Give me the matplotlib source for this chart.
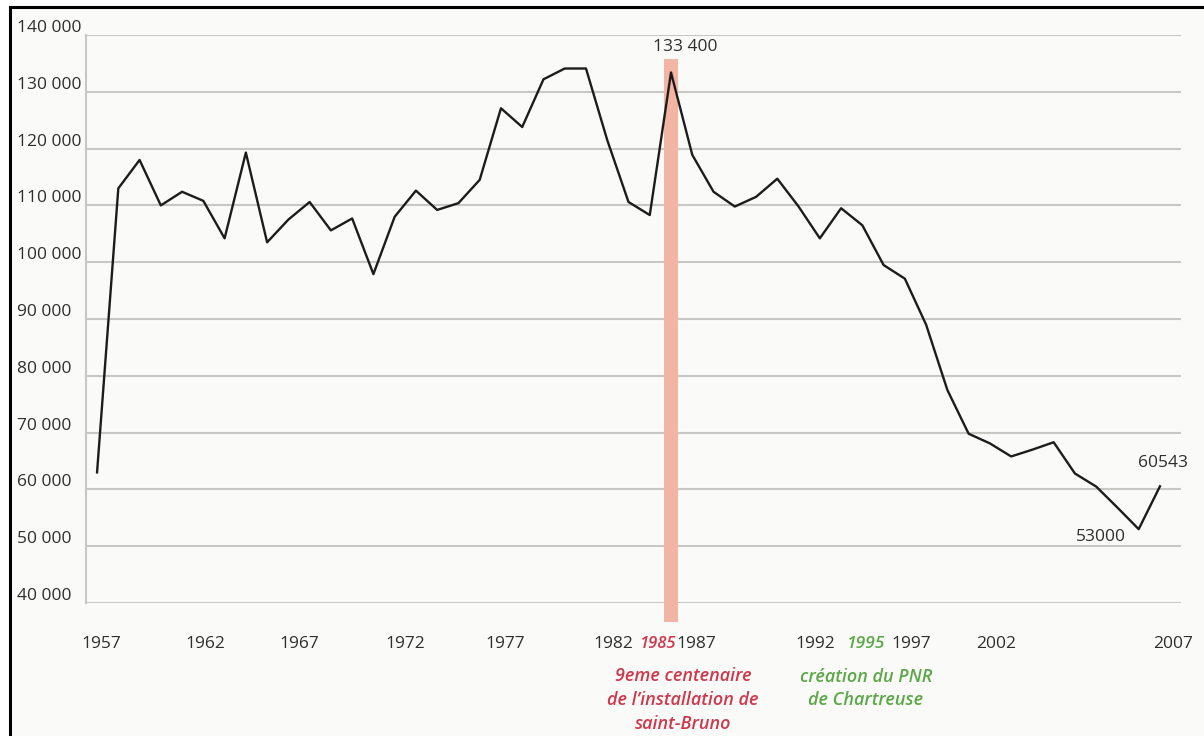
import matplotlib.pyplot as plt
from matplotlib import transforms
from matplotlib.lines import Line2D
from matplotlib.patches import Rectangle

plt.rcParams["font.family"] = ["Open Sans", "DejaVu Sans"]

# Yearly visitor counts, 1957-2007
years = list(range(1957, 2008))
visitors = [63000, 113000, 118000, 110000, 112400, 110800, 104200, 119300, 103500, 107500,
            110600, 105600, 107700, 97900, 108000, 112600, 109200, 110400, 114500, 127100,
            123800, 132200, 134100, 134100, 121500, 110600, 108300, 133400, 118900, 112400,
            109800, 111500, 114700, 109800, 104200, 109500, 106500, 99500, 97100, 89000,
            77500, 69800, 68100, 65800, 67000, 68300, 62800, 60500, 56800, 53000, 60543]

y_ticks = [40000, 50000, 60000, 70000, 80000, 90000, 100000, 110000, 120000, 130000, 140000]
y_labels = ["40 000", "50 000", "60 000", "70 000", "80 000", "90 000",
            "100 000", "110 000", "120 000", "130 000", "140 000"]

x_labels = ["1957", "1962", "1967", "1972", "1977", "1982", "1985", "1987",
            "1992", "1995", "1997", "2002", "2007"]
x_label_pos = [1957.2, 1962.1, 1966.5, 1971.5, 1976.2, 1981.3, 1983.35, 1985.2,
               1990.8, 1993.2, 1995.3, 1999.3, 2007.6]

peak_idx = 27
low_idx = 49
last_idx = 50

RED = "#cf384c"
GREEN = "#5ca848"
TEXT = "#2e2e2e"
GRID = "#c9c7c4"

fig = plt.figure(figsize=(12.04, 7.36), dpi=100)
fig.patch.set_facecolor("white")

# framed panel: off-white fill, black rule on top and left
fig.add_artist(Rectangle((10 / 1204, 0), 1 - 10 / 1204, 1 - 7 / 736,
                         transform=fig.transFigure, facecolor="#fafaf8",
                         edgecolor="none", zorder=-10))
fig.add_artist(Line2D([10 / 1204, 1], [1 - 7 / 736, 1 - 7 / 736],
                      transform=fig.transFigure, color="black", linewidth=2.2))
fig.add_artist(Line2D([10 / 1204, 10 / 1204], [0, 1 - 7 / 736],
                      transform=fig.transFigure, color="black", linewidth=2.2))

ax = fig.add_axes([86 / 1204, 133 / 736, 1095 / 1204, 568 / 736])
ax.set_facecolor("none")
ax.set_xlim(1956.48, 2007.99)
ax.set_ylim(40000, 140000)

for side in ("top", "right", "bottom"):
    ax.spines[side].set_visible(False)
ax.spines["left"].set_color(GRID)
ax.spines["left"].set_linewidth(1.5)

ax.set_yticks(y_ticks)
ax.set_yticklabels([])
ax.grid(axis="y", color=GRID, linewidth=1.5)
ax.tick_params(axis="y", length=0)

# y labels sit left-aligned near the frame, a touch above their grid line
ylab_trans = transforms.offset_copy(
    transforms.blended_transform_factory(fig.transFigure, ax.transData),
    fig=fig, y=7, units="dots")
for val, lab in zip(y_ticks, y_labels):
    ax.text(17 / 1204, val, lab, transform=ylab_trans, ha="left", va="center",
            fontsize=12.5, color=TEXT, clip_on=False)

ax.set_xticks(x_label_pos)
ax.set_xticklabels(x_labels, fontsize=12.5, color=TEXT)
ax.tick_params(axis="x", length=0, pad=24)
for tick in ax.get_xticklabels():
    if tick.get_text() == "1985":
        tick.set_color(RED)
        tick.set_style("italic")
        tick.set_fontweight("semibold")
        tick.set_fontsize(12)
    elif tick.get_text() == "1995":
        tick.set_color(GREEN)
        tick.set_style("italic")
        tick.set_fontweight("semibold")

# highlight band for the peak year, running down past the axis
ax.bar(years[peak_idx], 135700 - 36600, bottom=36600, width=0.7,
       color="#f3b5a3", zorder=2, clip_on=False)

ax.plot(years, visitors, color="#1c1c1c", linewidth=1.7, zorder=3)

ax.text(years[peak_idx] - 0.85, 137900, "133 400", ha="left", va="center",
        fontsize=12.5, color=TEXT, clip_on=False)
ax.text(years[low_idx] - 1.8, 51600, f"{visitors[low_idx]}", ha="center", va="center",
        fontsize=12.5, color=TEXT)
ax.text(years[last_idx] + 0.14, 64600, f"{visitors[last_idx]}", ha="center", va="center",
        fontsize=12.5, color=TEXT, clip_on=False)

note_trans = transforms.blended_transform_factory(ax.transData, fig.transFigure)
ax.text(1984.56, 1 - 700 / 736, "9eme centenaire\nde l\u2019installation de\nsaint-Bruno",
        transform=note_trans, ha="center", va="center", fontsize=13,
        style="italic", fontweight="semibold", color=RED, linespacing=1.4,
        clip_on=False)
ax.text(1993.17, 1 - 688.5 / 736, "cr\u00e9ation du PNR\nde Chartreuse",
        transform=note_trans, ha="center", va="center", fontsize=13,
        style="italic", fontweight="semibold", color=GREEN, linespacing=1.4,
        clip_on=False)

fig.savefig("out.png", dpi=100, facecolor=fig.get_facecolor())
